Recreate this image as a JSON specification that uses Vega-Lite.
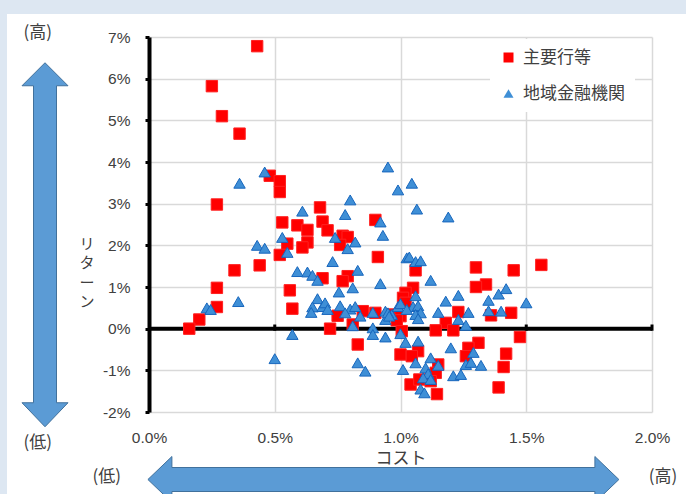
{
  "$schema": "https://vega.github.io/schema/vega-lite/v6.json",
  "autosize": {"type": "none"},
  "width": 503,
  "height": 375,
  "padding": {"left": 149, "top": 37, "right": 34, "bottom": 82},
  "background": "white",
  "config": {
    "view": {"stroke": null},
    "font": "Liberation Sans",
    "legend": {
      "labelFont": "Noto Sans CJK JP",
      "labelFontSize": 17,
      "labelColor": "#404040",
      "fillColor": "white",
      "padding": 10,
      "rowPadding": 18,
      "labelOffset": 6,
      "symbolSize": 100,
      "symbolStrokeWidth": 0
    }
  },
  "datasets": {
    "strips": [
      {"x": -1, "x2": 3, "y": 7.554, "y2": 9},
      {"x": -1, "x2": -0.5646, "y": -6, "y2": 9}
    ],
    "varrow": [{"x": -0.4135, "y": 2.014}],
    "harrow": [{"x": 0.932, "y": -3.62}],
    "zeroline": [{"x": 0, "x2": 2, "y": 0}],
    "zeroticks": [
      {"x": 0.5, "y": -0.05, "y2": 0.1},
      {"x": 1.0, "y": -0.05, "y2": 0.1},
      {"x": 1.5, "y": -0.05, "y2": 0.1},
      {"x": 2.0, "y": -0.05, "y2": 0.1}
    ],
    "ann": [
      {"x": -0.4425, "y": 7.10, "t": "(高)"},
      {"x": -0.4425, "y": -2.74, "t": "(低)"},
      {"x": -0.168, "y": -3.55, "t": "(低)"},
      {"x": 2.044, "y": -3.55, "t": "(高)"}
    ],
    "ytitle": [{"x": -0.2465, "y": 2.04, "t": "リ\nタ\nー\nン"}],
    "pts": [
      {"x":0.43,"y":6.78,"g":"主要行等"},{"x":0.25,"y":5.82,"g":"主要行等"},{"x":0.29,"y":5.10,"g":"主要行等"},{"x":0.36,"y":4.68,"g":"主要行等"},
      {"x":0.48,"y":3.67,"g":"主要行等"},{"x":0.52,"y":3.54,"g":"主要行等"},{"x":0.52,"y":3.28,"g":"主要行等"},{"x":0.27,"y":2.98,"g":"主要行等"},
      {"x":0.68,"y":2.91,"g":"主要行等"},{"x":0.53,"y":2.55,"g":"主要行等"},{"x":0.59,"y":2.48,"g":"主要行等"},{"x":0.63,"y":2.37,"g":"主要行等"},
      {"x":0.69,"y":2.57,"g":"主要行等"},{"x":0.71,"y":2.36,"g":"主要行等"},{"x":0.90,"y":2.61,"g":"主要行等"},{"x":0.77,"y":2.23,"g":"主要行等"},
      {"x":0.79,"y":2.20,"g":"主要行等"},{"x":0.76,"y":2.01,"g":"主要行等"},{"x":0.63,"y":2.07,"g":"主要行等"},{"x":0.61,"y":1.95,"g":"主要行等"},
      {"x":0.55,"y":2.04,"g":"主要行等"},{"x":0.52,"y":1.77,"g":"主要行等"},{"x":0.91,"y":1.72,"g":"主要行等"},{"x":0.44,"y":1.52,"g":"主要行等"},
      {"x":0.34,"y":1.40,"g":"主要行等"},{"x":0.69,"y":1.21,"g":"主要行等"},{"x":0.79,"y":1.26,"g":"主要行等"},{"x":0.77,"y":1.14,"g":"主要行等"},
      {"x":0.27,"y":0.98,"g":"主要行等"},{"x":0.56,"y":0.92,"g":"主要行等"},{"x":0.57,"y":0.48,"g":"主要行等"},{"x":0.27,"y":0.52,"g":"主要行等"},
      {"x":0.20,"y":0.22,"g":"主要行等"},{"x":0.16,"y":0.00,"g":"主要行等"},{"x":0.72,"y":0.00,"g":"主要行等"},{"x":0.75,"y":0.31,"g":"主要行等"},
      {"x":0.81,"y":0.10,"g":"主要行等"},{"x":0.85,"y":0.42,"g":"主要行等"},{"x":0.90,"y":0.38,"g":"主要行等"},{"x":0.97,"y":0.34,"g":"主要行等"},
      {"x":0.83,"y":-0.38,"g":"主要行等"},{"x":1.00,"y":-0.62,"g":"主要行等"},{"x":1.30,"y":1.47,"g":"主要行等"},{"x":1.45,"y":1.40,"g":"主要行等"},
      {"x":1.56,"y":1.53,"g":"主要行等"},{"x":1.34,"y":1.06,"g":"主要行等"},{"x":1.30,"y":1.00,"g":"主要行等"},{"x":1.06,"y":1.40,"g":"主要行等"},
      {"x":1.05,"y":0.98,"g":"主要行等"},{"x":1.02,"y":0.86,"g":"主要行等"},{"x":1.01,"y":0.74,"g":"主要行等"},{"x":1.02,"y":0.62,"g":"主要行等"},
      {"x":1.44,"y":0.38,"g":"主要行等"},{"x":1.36,"y":0.32,"g":"主要行等"},{"x":1.23,"y":0.40,"g":"主要行等"},{"x":1.18,"y":0.14,"g":"主要行等"},
      {"x":1.21,"y":-0.04,"g":"主要行等"},{"x":1.14,"y":-0.04,"g":"主要行等"},{"x":1.00,"y":0.30,"g":"主要行等"},{"x":0.985,"y":0.20,"g":"主要行等"},
      {"x":1.005,"y":-0.06,"g":"主要行等"},{"x":1.475,"y":-0.20,"g":"主要行等"},{"x":1.31,"y":-0.34,"g":"主要行等"},{"x":1.27,"y":-0.46,"g":"主要行等"},
      {"x":1.42,"y":-0.60,"g":"主要行等"},{"x":1.41,"y":-0.92,"g":"主要行等"},{"x":1.39,"y":-1.41,"g":"主要行等"},{"x":1.07,"y":-0.54,"g":"主要行等"},
      {"x":1.045,"y":-0.66,"g":"主要行等"},{"x":1.15,"y":-0.86,"g":"主要行等"},{"x":1.04,"y":-1.34,"g":"主要行等"},{"x":1.075,"y":-1.22,"g":"主要行等"},
      {"x":1.14,"y":-1.06,"g":"主要行等"},{"x":1.12,"y":-1.26,"g":"主要行等"},{"x":1.145,"y":-1.57,"g":"主要行等"},{"x":1.26,"y":-0.66,"g":"主要行等"},
      {"x":0.46,"y":3.76,"g":"地域金融機関"},{"x":0.36,"y":3.49,"g":"地域金融機関"},{"x":0.95,"y":3.88,"g":"地域金融機関"},{"x":0.99,"y":3.33,"g":"地域金融機関"},
      {"x":0.80,"y":3.09,"g":"地域金融機関"},{"x":0.61,"y":2.82,"g":"地域金融機関"},{"x":0.78,"y":2.74,"g":"地域金融機関"},{"x":1.045,"y":3.49,"g":"地域金融機関"},
      {"x":1.065,"y":2.87,"g":"地域金融機関"},{"x":1.19,"y":2.68,"g":"地域金融機関"},{"x":0.92,"y":2.56,"g":"地域金融機関"},{"x":0.93,"y":2.24,"g":"地域金融機関"},
      {"x":0.53,"y":2.19,"g":"地域金融機関"},{"x":0.43,"y":2.00,"g":"地域金融機関"},{"x":0.46,"y":1.93,"g":"地域金融機関"},{"x":0.55,"y":1.83,"g":"地域金融機関"},
      {"x":0.74,"y":2.19,"g":"地域金融機関"},{"x":0.82,"y":2.08,"g":"地域金融機関"},{"x":0.79,"y":1.92,"g":"地域金融機関"},{"x":0.73,"y":1.61,"g":"地域金融機関"},
      {"x":0.59,"y":1.37,"g":"地域金融機関"},{"x":0.63,"y":1.36,"g":"地域金融機関"},{"x":0.65,"y":1.28,"g":"地域金融機関"},{"x":0.67,"y":1.16,"g":"地域金融機関"},
      {"x":0.83,"y":1.40,"g":"地域金融機関"},{"x":0.81,"y":0.98,"g":"地域金融機関"},{"x":0.755,"y":0.88,"g":"地域金融機関"},{"x":0.92,"y":1.08,"g":"地域金融機関"},
      {"x":0.355,"y":0.65,"g":"地域金融機関"},{"x":0.23,"y":0.50,"g":"地域金融機関"},{"x":0.245,"y":0.46,"g":"地域金融機関"},{"x":0.67,"y":0.72,"g":"地域金融機関"},
      {"x":0.65,"y":0.52,"g":"地域金融機関"},{"x":0.645,"y":0.39,"g":"地域金融機関"},{"x":0.69,"y":0.53,"g":"地域金融機関"},{"x":0.70,"y":0.62,"g":"地域金融機関"},
      {"x":0.71,"y":0.46,"g":"地域金融機関"},{"x":0.76,"y":0.55,"g":"地域金融機関"},{"x":0.80,"y":0.47,"g":"地域金融機関"},{"x":0.82,"y":0.53,"g":"地域金融機関"},
      {"x":0.84,"y":0.30,"g":"地域金融機関"},{"x":0.78,"y":0.38,"g":"地域金融機関"},{"x":0.81,"y":0.07,"g":"地域金融機関"},{"x":0.89,"y":0.39,"g":"地域金融機関"},
      {"x":0.94,"y":0.42,"g":"地域金融機関"},{"x":0.965,"y":0.34,"g":"地域金融機関"},{"x":0.94,"y":0.22,"g":"地域金融機関"},{"x":0.89,"y":0.02,"g":"地域金融機関"},
      {"x":0.89,"y":-0.14,"g":"地域金融機関"},{"x":0.94,"y":-0.20,"g":"地域金融機関"},{"x":0.57,"y":-0.14,"g":"地域金融機関"},{"x":0.50,"y":-0.72,"g":"地域金融機関"},
      {"x":0.83,"y":-0.82,"g":"地域金融機関"},{"x":0.86,"y":-1.02,"g":"地域金融機関"},{"x":0.99,"y":0.53,"g":"地域金融機関"},{"x":1.025,"y":1.70,"g":"地域金融機関"},
      {"x":1.035,"y":1.72,"g":"地域金融機関"},{"x":1.06,"y":1.61,"g":"地域金融機関"},{"x":1.08,"y":1.63,"g":"地域金融機関"},{"x":1.12,"y":1.16,"g":"地域金融機関"},
      {"x":1.23,"y":0.80,"g":"地域金融機関"},{"x":1.18,"y":0.66,"g":"地域金融機関"},{"x":1.35,"y":0.68,"g":"地域金融機関"},{"x":1.39,"y":0.83,"g":"地域金融機関"},
      {"x":1.42,"y":0.96,"g":"地域金融機関"},{"x":1.50,"y":0.62,"g":"地域金融機関"},{"x":1.40,"y":0.42,"g":"地域金融機関"},{"x":1.35,"y":0.43,"g":"地域金融機関"},
      {"x":1.27,"y":0.39,"g":"地域金融機関"},{"x":1.15,"y":0.39,"g":"地域金融機関"},{"x":1.23,"y":0.22,"g":"地域金融機関"},{"x":1.26,"y":0.08,"g":"地域金融機関"},
      {"x":1.06,"y":0.79,"g":"地域金融機関"},{"x":1.00,"y":0.60,"g":"地域金融機関"},{"x":1.05,"y":0.53,"g":"地域金融機関"},{"x":1.07,"y":0.55,"g":"地域金融機関"},
      {"x":1.025,"y":0.46,"g":"地域金融機関"},{"x":1.08,"y":0.38,"g":"地域金融機関"},{"x":1.06,"y":0.34,"g":"地域金融機関"},{"x":1.07,"y":0.24,"g":"地域金融機関"},
      {"x":0.95,"y":0.38,"g":"地域金融機関"},{"x":0.955,"y":0.30,"g":"地域金融機関"},{"x":1.00,"y":-0.12,"g":"地域金融機関"},{"x":1.02,"y":-0.33,"g":"地域金融機関"},
      {"x":1.07,"y":-0.30,"g":"地域金融機関"},{"x":1.20,"y":-0.46,"g":"地域金融機関"},{"x":1.29,"y":-0.57,"g":"地域金融機関"},{"x":1.12,"y":-0.70,"g":"地域金融機関"},
      {"x":1.15,"y":-0.88,"g":"地域金融機関"},{"x":1.06,"y":-0.82,"g":"地域金融機関"},{"x":1.01,"y":-0.98,"g":"地域金融機関"},{"x":1.10,"y":-0.94,"g":"地域金融機関"},
      {"x":1.11,"y":-1.08,"g":"地域金融機関"},{"x":1.09,"y":-1.18,"g":"地域金融機関"},{"x":1.12,"y":-1.22,"g":"地域金融機関"},{"x":1.08,"y":-1.45,"g":"地域金融機関"},
      {"x":1.095,"y":-1.54,"g":"地域金融機関"},{"x":1.26,"y":-0.86,"g":"地域金融機関"},{"x":1.28,"y":-0.81,"g":"地域金融機関"},{"x":1.32,"y":-0.88,"g":"地域金融機関"},
      {"x":1.21,"y":-1.13,"g":"地域金融機関"},{"x":1.24,"y":-1.10,"g":"地域金融機関"}
    ]
  },
  "encoding": {
    "x": {
      "field": "x", "type": "quantitative",
      "scale": {"domain": [0, 2], "nice": false, "zero": false},
      "axis": {
        "title": "コスト",
        "values": [0, 0.5, 1, 1.5, 2],
        "labelExpr": "format(datum.value, '.1f') + '%'",
        "grid": true, "gridColor": "#d9d9d9", "gridWidth": 1.5,
        "domain": false, "ticks": false,
        "labelPadding": 18, "labelFontSize": 15.5, "labelColor": "#404040", "labelFont": "Liberation Sans",
        "labelFlush": false, "labelOverlap": false,
        "titleFont": "Noto Sans CJK JP", "titleFontSize": 17, "titleFontWeight": "normal", "titleColor": "#404040",
        "titlePadding": 5
      }
    },
    "y": {
      "field": "y", "type": "quantitative",
      "scale": {"domain": [-2, 7], "nice": false, "zero": false},
      "axis": {
        "title": null,
        "values": [-2, -1, 0, 1, 2, 3, 4, 5, 6, 7],
        "labelExpr": "datum.value + '%'",
        "grid": true, "gridColor": "#d9d9d9", "gridWidth": 1.5,
        "domainColor": "#000000", "domainWidth": 4,
        "tickColor": "#000000", "tickWidth": 3, "tickSize": 4,
        "labelPadding": 15, "labelFontSize": 15.5, "labelColor": "#404040", "labelFont": "Liberation Sans",
        "labelFlush": false, "labelOverlap": false
      }
    }
  },
  "layer": [
    {
      "data": {"name": "strips"},
      "mark": {"type": "rect", "fill": "#dde7f2"},
      "encoding": {"x2": {"field": "x2"}, "y2": {"field": "y2"}}
    },
    {
      "data": {"name": "varrow"},
      "mark": {"type": "point", "filled": true, "opacity": 1, "size": 4, "fill": "#5b9bd5", "stroke": "#41719c", "strokeWidth": 1,
        "shape": "M0,-182 L23,-159 L11.5,-159 L11.5,158 L23,158 L0,182 L-23,158 L-11.5,158 L-11.5,-159 L-23,-159 Z"}
    },
    {
      "data": {"name": "harrow"},
      "mark": {"type": "point", "filled": true, "opacity": 1, "size": 4, "fill": "#5b9bd5", "stroke": "#41719c", "strokeWidth": 1,
        "shape": "M-235.5,0 L-211.5,-23 L-211.5,-12 L211.5,-12 L211.5,-23 L235.5,0 L211.5,23 L211.5,12 L-211.5,12 L-211.5,23 Z"}
    },
    {
      "data": {"name": "zeroline"},
      "mark": {"type": "rule", "color": "#000000", "strokeWidth": 4},
      "encoding": {"x2": {"field": "x2"}}
    },
    {
      "data": {"name": "zeroticks"},
      "mark": {"type": "rule", "color": "#000000", "strokeWidth": 3},
      "encoding": {"y2": {"field": "y2"}}
    },
    {
      "data": {"name": "pts"},
      "mark": {"type": "point", "filled": true, "opacity": 1, "size": 130, "strokeWidth": 1},
      "encoding": {
        "color": {
          "field": "g", "type": "nominal",
          "scale": {"domain": ["主要行等", "地域金融機関"], "range": ["#ff0000", "#3f8fd6"]},
          "legend": {
            "title": null, "orient": "none", "legendX": 341, "legendY": 2,
            "encode": {"labels": {
              "fontWeight": {"condition": {"test": "datum.index === 1 || datum.label === '地域金融機関'", "value": "bold"}, "value": "normal"},
              "fill": {"condition": {"test": "datum.index === 1 || datum.label === '地域金融機関'", "value": "#000000"}, "value": "#404040"}
            }}
          }
        },
        "stroke": {
          "field": "g", "type": "nominal",
          "scale": {"domain": ["主要行等", "地域金融機関"], "range": ["#ff2020", "#1766bd"]},
          "legend": null
        },
        "shape": {
          "field": "g", "type": "nominal",
          "scale": {"domain": ["主要行等", "地域金融機関"], "range": ["square", "triangle-up"]},
          "legend": {
            "title": null, "orient": "none", "legendX": 341, "legendY": 2,
            "encode": {"labels": {
              "fontWeight": {"condition": {"test": "datum.index === 1 || datum.label === '地域金融機関'", "value": "bold"}, "value": "normal"},
              "fill": {"condition": {"test": "datum.index === 1 || datum.label === '地域金融機関'", "value": "#000000"}, "value": "#404040"}
            }}
          }
        }
      }
    },
    {
      "data": {"name": "ann"},
      "mark": {"type": "text", "font": "Noto Sans CJK JP", "fontSize": 17, "color": "#404040", "align": "center", "baseline": "middle"},
      "encoding": {"text": {"field": "t"}}
    },
    {
      "data": {"name": "ytitle"},
      "mark": {"type": "text", "font": "Noto Sans CJK JP", "fontSize": 15, "color": "#404040", "align": "center", "baseline": "middle", "lineBreak": "\n", "lineHeight": 19.5},
      "encoding": {"text": {"field": "t"}}
    }
  ]
}
